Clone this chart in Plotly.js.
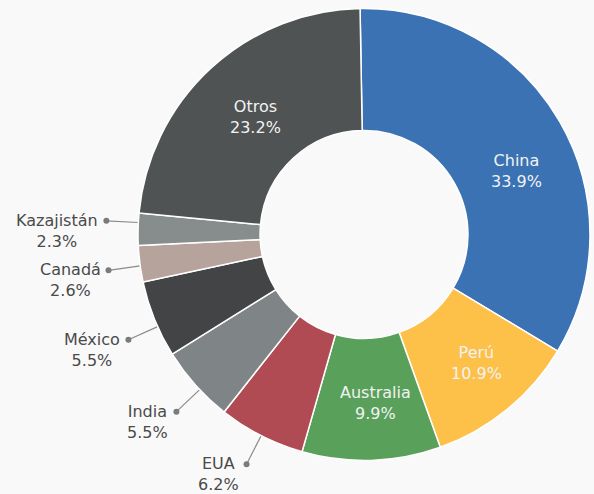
<!DOCTYPE html>
<html>
<head>
<meta charset="utf-8">
<script src="https://cdn.plot.ly/plotly-3.0.1.min.js"></script>
<style>html,body{margin:0;padding:0;background:#f9f9f9;}</style>
</head>
<body>
<div id="chart" style="width:594px;height:494px;"></div>
<script>
const labels = ['China', 'Perú', 'Australia', 'EUA', 'India', 'México', 'Canadá', 'Kazajistán', 'Otros'];
const values = [33.9, 10.9, 9.9, 6.2, 5.5, 5.5, 2.6, 2.3, 23.2];
const colors = ['#3a72b4', '#fdc048', '#59a05b', '#b04b53', '#7f8586', '#434446', '#b6a39b', '#878c8c', '#505353'];
const outsideLabel = [false, false, false, true, true, true, true, true, false];
// small label placement tweaks (degrees, px) to follow the reference layout
const labelAngleShift = [7.5, -2, -2, 0, -1.5, -2, -0.5, 1.7, 0];
const labelRadiusShift = [0, 6, 4, 0, 0, 0, 0, 0, -5];

const W = 594, H = 494;
const cx = 364, cy = 234.5, R = 226, holeFrac = 0.46;
const rotation = -1;
const font = '"DejaVu Sans", sans-serif';
const fsize = 16;

const total = values.reduce((a, b) => a + b, 0);
const annotations = [];
const lx = [], ly = [], dx = [], dy = [];
let cum = 0;
values.forEach((v, i) => {
  const mid = rotation + (cum + v / 2) / total * 360 + labelAngleShift[i];
  cum += v;
  const a = mid * Math.PI / 180;
  const s = Math.sin(a), c = Math.cos(a);
  const txt = labels[i] + '<br>' + v.toFixed(1) + '%';
  if (!outsideLabel[i]) {
    const rr = (R + R * holeFrac) / 2 + labelRadiusShift[i];
    annotations.push({
      x: cx + rr * s, y: cy - rr * c, xref: 'x', yref: 'y',
      text: txt, showarrow: false, xanchor: 'center', yanchor: 'middle',
      align: 'center', font: {family: font, size: fsize, color: '#f2f2f2'}
    });
  } else {
    const r0 = R, r1 = 258 + labelRadiusShift[i];
    const px = cx + r1 * s, py = cy - r1 * c;
    lx.push(cx + r0 * s, px, null);
    ly.push(cy - r0 * c, py, null);
    dx.push(px); dy.push(py);
    annotations.push({
      x: px - 6, y: py - 12, xref: 'x', yref: 'y',
      text: txt, showarrow: false, xanchor: 'right', yanchor: 'top',
      align: 'center', font: {family: font, size: fsize, color: '#4a4a4a'}
    });
  }
});

const dom = {
  x: [(cx - R) / W, (cx + R) / W],
  y: [(H - cy - R) / H, (H - cy + R) / H]
};

const data = [
  {
    type: 'pie', labels: labels, values: values, sort: false,
    direction: 'clockwise', rotation: rotation, hole: holeFrac,
    marker: {colors: colors, line: {color: '#ffffff', width: 1.5}},
    textinfo: 'none', hoverinfo: 'label+percent', showlegend: false,
    domain: dom
  },
  {
    type: 'scatter', mode: 'lines', x: lx, y: ly, showlegend: false,
    line: {color: '#8a8a8a', width: 1.2}, hoverinfo: 'skip'
  },
  {
    type: 'scatter', mode: 'markers', x: dx, y: dy, showlegend: false,
    marker: {color: '#7b7b7b', size: 6}, hoverinfo: 'skip'
  }
];

const layout = {
  width: W, height: H,
  margin: {l: 0, r: 0, t: 0, b: 0},
  paper_bgcolor: '#f9f9f9', plot_bgcolor: 'rgba(0,0,0,0)',
  xaxis: {range: [0, W], visible: false, fixedrange: true},
  yaxis: {range: [H, 0], visible: false, fixedrange: true},
  showlegend: false,
  annotations: annotations
};

Plotly.newPlot('chart', data, layout, {displayModeBar: false, staticPlot: true});
</script>
</body>
</html>
